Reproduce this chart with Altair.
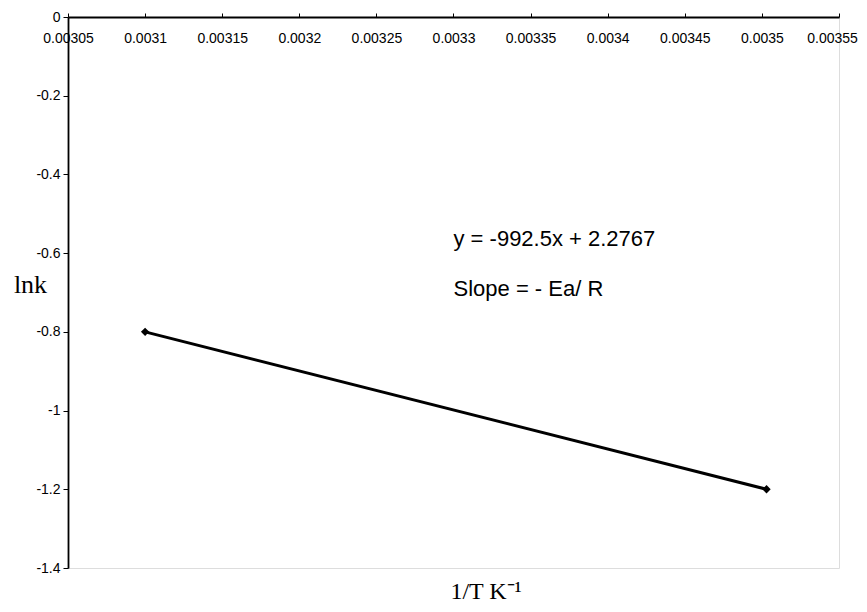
import altair as alt
import pandas as pd

# data
inv_T = [0.0031, 0.003503]
ln_k = [-0.8, -1.2]

x_ticks = [0.00305, 0.0031, 0.00315, 0.0032, 0.00325, 0.0033,
           0.00335, 0.0034, 0.00345, 0.0035, 0.00355]
y_ticks = [0, -0.2, -0.4, -0.6, -0.8, -1.0, -1.2, -1.4]

ann_text = ["y = -992.5x + 2.2767", "Slope = - Ea/ R"]
ann_x = [0.00330, 0.00330]
ann_y = [-0.563, -0.69]

df = pd.DataFrame({"x": inv_T, "y": ln_k})
ann = pd.DataFrame({"t": ann_text, "x": ann_x, "y": ann_y})

xscale = alt.Scale(domain=[0.00305, 0.00355], nice=False, zero=False)
yscale = alt.Scale(domain=[-1.4, 0], nice=False, zero=False)

minus_fix = "replace(datum.label, '\u2212', '-')"

xaxis = alt.Axis(
    orient="top", values=x_ticks, format="~g", title=None, labelExpr=minus_fix,
    grid=False, domainColor="black", domainWidth=1.8,
    tickColor="black", tickSize=4, labelPadding=-32,
    labelFont="Liberation Sans", labelFontSize=14, labelColor="black",
    labelOverlap=False, labelFlush=False,
    labelOffset={"condition": {"test": "datum.value > 0.003545", "value": -7}, "value": 0},
)
yaxis = alt.Axis(
    values=y_ticks, format="~g", title="lnk", titleAngle=0, labelExpr=minus_fix,
    titleFont="Liberation Serif", titleFontSize=26, titleFontWeight="normal",
    titleColor="black", titleX=-38, titleY=275, titleAlign="center",
    titleBaseline="alphabetic",
    grid=False, domainColor="black", domainWidth=1.8,
    tickColor="black", tickSize=5, labelPadding=3,
    labelFont="Liberation Sans", labelFontSize=14, labelColor="black",
    labelOverlap=False, labelFlush=False,
)

base = alt.Chart(df)
line = base.mark_line(color="black", strokeWidth=3).encode(
    x=alt.X("x:Q", scale=xscale, axis=xaxis),
    y=alt.Y("y:Q", scale=yscale, axis=yaxis),
)
pts = base.mark_point(shape="diamond", filled=True, color="black", size=70, opacity=1).encode(
    x=alt.X("x:Q", scale=xscale),
    y=alt.Y("y:Q", scale=yscale),
)
txt = alt.Chart(ann).mark_text(
    align="left", baseline="middle", font="Liberation Sans", fontSize=22, color="black"
).encode(
    x=alt.X("x:Q", scale=xscale),
    y=alt.Y("y:Q", scale=yscale),
    text="t:N",
)

chart = alt.layer(line, pts, txt).properties(
    width=771, height=551,
    autosize=alt.AutoSizeParams(type="none"),
    padding={"left": 60, "top": 9, "right": 20, "bottom": 36},
    title=alt.TitleParams(
        "1/T  K⁻¹", orient="bottom", anchor="start", font="Liberation Serif",
        fontSize=24, fontWeight="normal", color="black", dx=437, offset=24,
        baseline="alphabetic",
    ),
).configure_view(stroke="black", strokeWidth=1.8).configure(background="white")

chart.save("out.html", embed_options={"renderer": "svg", "actions": False})
